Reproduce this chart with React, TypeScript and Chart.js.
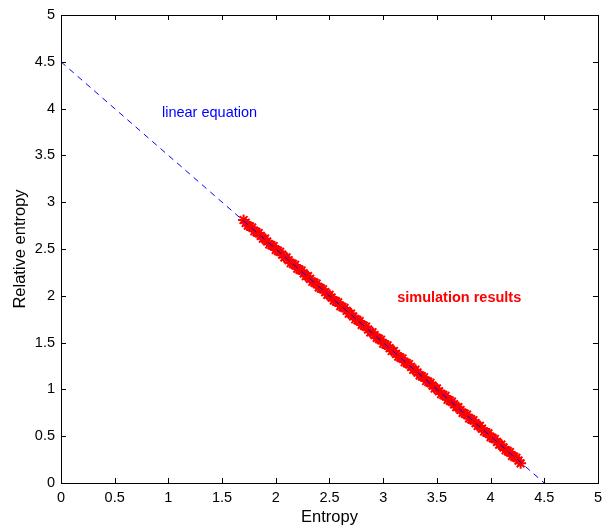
import React, { useEffect, useRef } from "react";
import { Chart, registerables } from "chart.js";

Chart.register(...registerables);

const entropy = [
  1.70,1.72,1.74,1.76,1.78,1.80,1.82,1.84,1.86,1.88,
  1.90,1.92,1.94,1.96,1.98,2.00,2.02,2.04,2.06,2.08,
  2.10,2.12,2.14,2.16,2.18,2.20,2.22,2.24,2.26,2.28,
  2.30,2.32,2.34,2.36,2.38,2.40,2.42,2.44,2.46,2.48,
  2.50,2.52,2.54,2.56,2.58,2.60,2.62,2.64,2.66,2.68,
  2.70,2.72,2.74,2.76,2.78,2.80,2.82,2.84,2.86,2.88,
  2.90,2.92,2.94,2.96,2.98,3.00,3.02,3.04,3.06,3.08,
  3.10,3.12,3.14,3.16,3.18,3.20,3.22,3.24,3.26,3.28,
  3.30,3.32,3.34,3.36,3.38,3.40,3.42,3.44,3.46,3.48,
  3.50,3.52,3.54,3.56,3.58,3.60,3.62,3.64,3.66,3.68,
  3.70,3.72,3.74,3.76,3.78,3.80,3.82,3.84,3.86,3.88,
  3.90,3.92,3.94,3.96,3.98,4.00,4.02,4.04,4.06,4.08,
  4.10,4.12,4.14,4.16,4.18,4.20,4.22,4.24,4.26,4.28,
];
const relativeEntropy = [
  2.81,2.78,2.75,2.74,2.73,2.69,2.68,2.67,2.64,2.61,
  2.61,2.58,2.55,2.54,2.53,2.49,2.48,2.47,2.44,2.41,
  2.41,2.38,2.35,2.34,2.33,2.29,2.28,2.27,2.24,2.21,
  2.21,2.18,2.15,2.14,2.13,2.09,2.08,2.07,2.04,2.01,
  2.01,1.98,1.95,1.94,1.93,1.89,1.88,1.87,1.84,1.81,
  1.81,1.78,1.75,1.74,1.73,1.69,1.68,1.67,1.64,1.61,
  1.61,1.58,1.55,1.54,1.53,1.49,1.48,1.47,1.44,1.41,
  1.41,1.38,1.35,1.34,1.33,1.29,1.28,1.27,1.24,1.21,
  1.21,1.18,1.15,1.14,1.13,1.09,1.08,1.07,1.04,1.01,
  1.01,0.98,0.95,0.94,0.93,0.89,0.88,0.87,0.84,0.81,
  0.81,0.78,0.75,0.74,0.73,0.69,0.68,0.67,0.64,0.61,
  0.61,0.58,0.55,0.54,0.53,0.49,0.48,0.47,0.44,0.41,
  0.41,0.38,0.35,0.34,0.33,0.29,0.28,0.27,0.24,0.21,
];

const lineX = [0, 4.5];
const lineY = [4.5, 0];

const tickValues = [0, 0.5, 1, 1.5, 2, 2.5, 3, 3.5, 4, 4.5, 5];

const annotations = [
  { text: "linear equation", x: 0.94, y: 3.95, color: "#0000ff", bold: false },
  { text: "simulation results", x: 3.13, y: 1.98, color: "#ff0000", bold: true },
];

const FONT = "'Liberation Sans', Arial, Helvetica, sans-serif";

const framePlugin = {
  id: "frame",
  afterDatasetsDraw(chart: any) {
    const { ctx, chartArea: a, scales } = chart;
    const xs = scales.x;
    const ys = scales.y;
    ctx.save();
    ctx.strokeStyle = "#000";
    ctx.lineWidth = 1;
    ctx.strokeRect(Math.round(a.left) + 0.5, Math.round(a.top) + 0.5, Math.round(a.right - a.left), Math.round(a.bottom - a.top));
    const tl = 5;
    ctx.beginPath();
    tickValues.forEach((v) => {
      const px = Math.round(xs.getPixelForValue(v)) + 0.5;
      ctx.moveTo(px, a.bottom);
      ctx.lineTo(px, a.bottom - tl);
      ctx.moveTo(px, a.top);
      ctx.lineTo(px, a.top + tl);
      const py = Math.round(ys.getPixelForValue(v)) + 0.5;
      ctx.moveTo(a.left, py);
      ctx.lineTo(a.left + tl, py);
      ctx.moveTo(a.right, py);
      ctx.lineTo(a.right - tl, py);
    });
    ctx.stroke();
    ctx.textBaseline = "middle";
    ctx.textAlign = "left";
    annotations.forEach((an) => {
      ctx.fillStyle = an.color;
      ctx.font = (an.bold ? "bold " : "") + "14.5px " + FONT;
      ctx.fillText(an.text, xs.getPixelForValue(an.x), ys.getPixelForValue(an.y));
    });
    ctx.restore();
  },
};

const fmt = (v: any) => String(Number(v));

export default function App() {
  const ref = useRef<HTMLCanvasElement>(null);
  useEffect(() => {
    const chart = new Chart(ref.current as HTMLCanvasElement, {
      type: "scatter",
      data: {
        datasets: [
          {
            label: "linear equation",
            data: lineX.map((x, i) => ({ x, y: lineY[i] })),
            showLine: true,
            borderColor: "#0000ff",
            borderWidth: 1,
            borderDash: [6, 5],
            pointRadius: 0,
            fill: false,
          },
          {
            label: "simulation results",
            data: entropy.map((x, i) => ({ x, y: relativeEntropy[i] })),
            pointStyle: "star",
            pointRadius: 5.5,
            borderColor: "#ff0000",
            backgroundColor: "#ff0000",
            borderWidth: 2,
          },
        ],
      },
      options: {
        animation: false,
        responsive: false,
        devicePixelRatio: 1,
        layout: { padding: { left: 0, right: 10, top: 15, bottom: 0 } },
        plugins: { legend: { display: false }, tooltip: { enabled: false } },
        scales: {
          x: {
            type: "linear",
            min: 0,
            max: 5,
            grid: { display: false, drawTicks: false, tickLength: 0 },
            border: { display: false },
            ticks: { stepSize: 0.5, padding: 6, color: "#000", font: { family: FONT, size: 14.5 }, maxRotation: 0, autoSkip: false, callback: fmt },
            title: { display: true, text: "Entropy", color: "#000", font: { family: FONT, size: 16.5 }, padding: { top: 0, bottom: 5 } },
            afterFit: (s: any) => { s.height = 49; },
          },
          y: {
            type: "linear",
            min: 0,
            max: 5,
            grid: { display: false, drawTicks: false, tickLength: 0 },
            border: { display: false },
            ticks: { stepSize: 0.5, padding: 6, color: "#000", font: { family: FONT, size: 14.5 }, autoSkip: false, callback: fmt },
            title: { display: true, text: "Relative entropy", color: "#000", font: { family: FONT, size: 16.5 }, padding: { top: 11, bottom: 0 } },
            afterFit: (s: any) => { s.width = 61; },
          },
        },
      },
      plugins: [framePlugin],
    });
    return () => chart.destroy();
  }, []);
  return (
    <div style={{ position: "absolute", left: 0, top: 0, width: 608, height: 532, background: "#fff" }}>
      <canvas ref={ref} width={608} height={532} style={{ width: 608, height: 532 }} />
    </div>
  );
}
